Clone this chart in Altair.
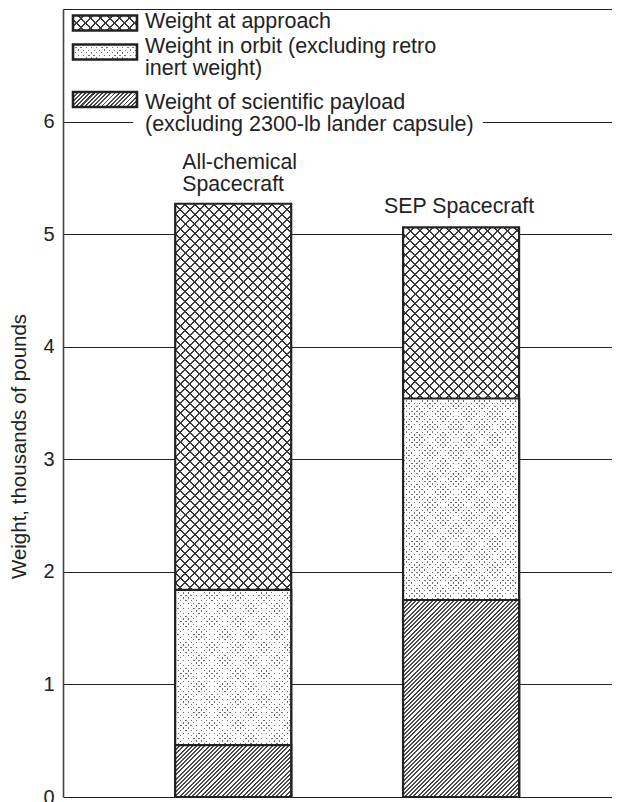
import altair as alt
import pandas as pd

# ---------------- data ----------------
crafts = ["All-chemical Spacecraft", "SEP Spacecraft"]
craft_labels = ["All-chemical\nSpacecraft", "SEP Spacecraft"]
weight_approach = [5.27, 5.06]
weight_orbit = [1.84, 3.54]
weight_payload = [0.46, 1.75]
legend_labels = [
    "Weight at approach",
    "Weight in orbit (excluding retro\ninert weight)",
    "Weight of scientific payload\n(excluding 2300-lb lander capsule)",
]
y_ticks = [0, 1, 2, 3, 4, 5, 6, 7]
y_max = 7

# ---------------- layout / style ----------------
W, H = 549, 788
PAD_INNER, PAD_OUTER, ALIGN = 0.491, 0.45, 0.547
STEP = W / (len(crafts) - PAD_INNER + 2 * PAD_OUTER)
BAND = STEP * (1 - PAD_INNER)
PX = H / y_max
FONT = "Liberation Sans"
INK = "#222222"
CLEAR = "rgba(255,255,255,0)"


def stripe_stops(total, period, width, ink, gap):
    stops = []
    d = 0.0
    while d < total:
        for off, col in ((d, ink), (d + width, ink), (d + width, gap), (d + period, gap)):
            stops.append({"offset": round(min(off / total, 1.0), 5), "color": col})
        d += period
    return stops


def hatch(w, h, direction, period, width, ink, gap):
    k = (w + h) / (w * w + h * h)
    stops = stripe_stops(w + h, period, width, ink, gap)
    if direction == "/":
        return {"gradient": "linear", "x1": 0, "y1": 0, "x2": k * w, "y2": k * h, "stops": stops}
    return {"gradient": "linear", "x1": 0, "y1": 1, "x2": k * w, "y2": 1 - k * h, "stops": stops}


def pattern(name, w, h):
    if name == "approach":
        return [hatch(w, h, "/", 9.7, 2.0, "#3a3a3a", "#ffffff"),
                hatch(w, h, "\\", 9.7, 2.0, "#3a3a3a", CLEAR)]
    if name == "orbit":
        return [hatch(w, h, "/", 5.2, 1.7, "#707070", "#ffffff"),
                hatch(w, h, "\\", 5.2, 3.5, "#ffffff", CLEAR)]
    return [hatch(w, h, "/", 4.2, 2.0, "#4a4a4a", "#ffffff")]


x_scale = alt.Scale(domain=crafts, paddingInner=PAD_INNER, paddingOuter=PAD_OUTER, align=ALIGN)
y_axis = alt.Axis(
    values=y_ticks,
    labelExpr="datum.value >= 7 ? '' : datum.label",
    grid=True, gridColor=INK, gridWidth=1.2,
    domain=True, domainColor="#444444", domainWidth=1.6,
    ticks=False, labelFontSize=20, labelColor=INK, labelPadding=9, labelFont=FONT,
    title="Weight, thousands of pounds", titleFontSize=20.5, titleFont=FONT,
    titleFontWeight="normal", titleColor=INK, titleX=-44, titleY=437,
    titleAngle=270, titleAlign="center", titleBaseline="middle",
)


def xenc(**kw):
    return alt.X("craft:N", sort=crafts, scale=x_scale, axis=None, **kw)


def yenc():
    return alt.Y("w:Q", scale=alt.Scale(domain=[0, y_max], nice=False, zero=True), axis=y_axis)


layers = []
for name, series in (("approach", weight_approach), ("orbit", weight_orbit), ("payload", weight_payload)):
    for i, craft in enumerate(crafts):
        df = pd.DataFrame({"craft": [craft], "w": [series[i]]})
        fills = pattern(name, BAND, series[i] * PX)
        for j, f in enumerate(fills):
            kw = {}
            if j == len(fills) - 1:
                kw = {"stroke": INK, "strokeWidth": 2.2}
            layers.append(
                alt.Chart(df).mark_bar(**kw).encode(x=xenc(), y=yenc(), fill=alt.value(f))
            )

# bar labels
lab0 = pd.DataFrame({"craft": [crafts[0]], "w": [weight_approach[0]], "label": [craft_labels[0]]})
lab1 = pd.DataFrame({"craft": [crafts[1]], "w": [weight_approach[1]], "label": [craft_labels[1]]})
layers.append(
    alt.Chart(lab0).mark_text(align="left", baseline="alphabetic", dx=7, dy=-35, lineBreak="\n",
                              lineHeight=22, fontSize=21.3, font=FONT, color=INK)
    .encode(x=xenc(bandPosition=0), y=yenc(), text="label:N")
)
layers.append(
    alt.Chart(lab1).mark_text(align="center", baseline="alphabetic", dx=-2, dy=-14,
                              fontSize=21.3, font=FONT, color=INK)
    .encode(x=xenc(), y=yenc(), text="label:N")
)

# legend
dummy = pd.DataFrame({"k": [0]})
layers.append(
    alt.Chart(dummy).mark_rect(fill="white").encode(
        x=alt.value(70), x2=alt.value(420), y=alt.value(104), y2=alt.value(119))
)
sw_x0, sw_x1, sw_h = 10, 74, 15
sw_tops = [6.5, 35.5, 83]
text_base = [19, 44, 100]
for name, top, base, label in zip(("approach", "orbit", "payload"), sw_tops, text_base, legend_labels):
    fills = pattern(name, sw_x1 - sw_x0, sw_h)
    for j, f in enumerate(fills):
        kw = {}
        if j == len(fills) - 1:
            kw = {"stroke": INK, "strokeWidth": 2.6}
        layers.append(
            alt.Chart(dummy).mark_rect(**kw).encode(
                x=alt.value(sw_x0), x2=alt.value(sw_x1), y=alt.value(top), y2=alt.value(top + sw_h),
                fill=alt.value(f))
        )
    layers.append(
        alt.Chart(dummy).mark_text(align="left", baseline="alphabetic", lineBreak="\n", lineHeight=21.5,
                                   fontSize=21.5, font=FONT, color=INK)
        .encode(x=alt.value(82), y=alt.value(base), text=alt.value(label))
    )

chart = (
    alt.layer(*layers)
    .properties(width=W, height=H, autosize=alt.AutoSizeParams(type="none"),
                padding={"left": 55, "top": 1, "right": 0, "bottom": 5}, background="white")
    .configure_view(stroke=None)
)

chart.save("out.html", embed_options={"renderer": "svg", "actions": False})
